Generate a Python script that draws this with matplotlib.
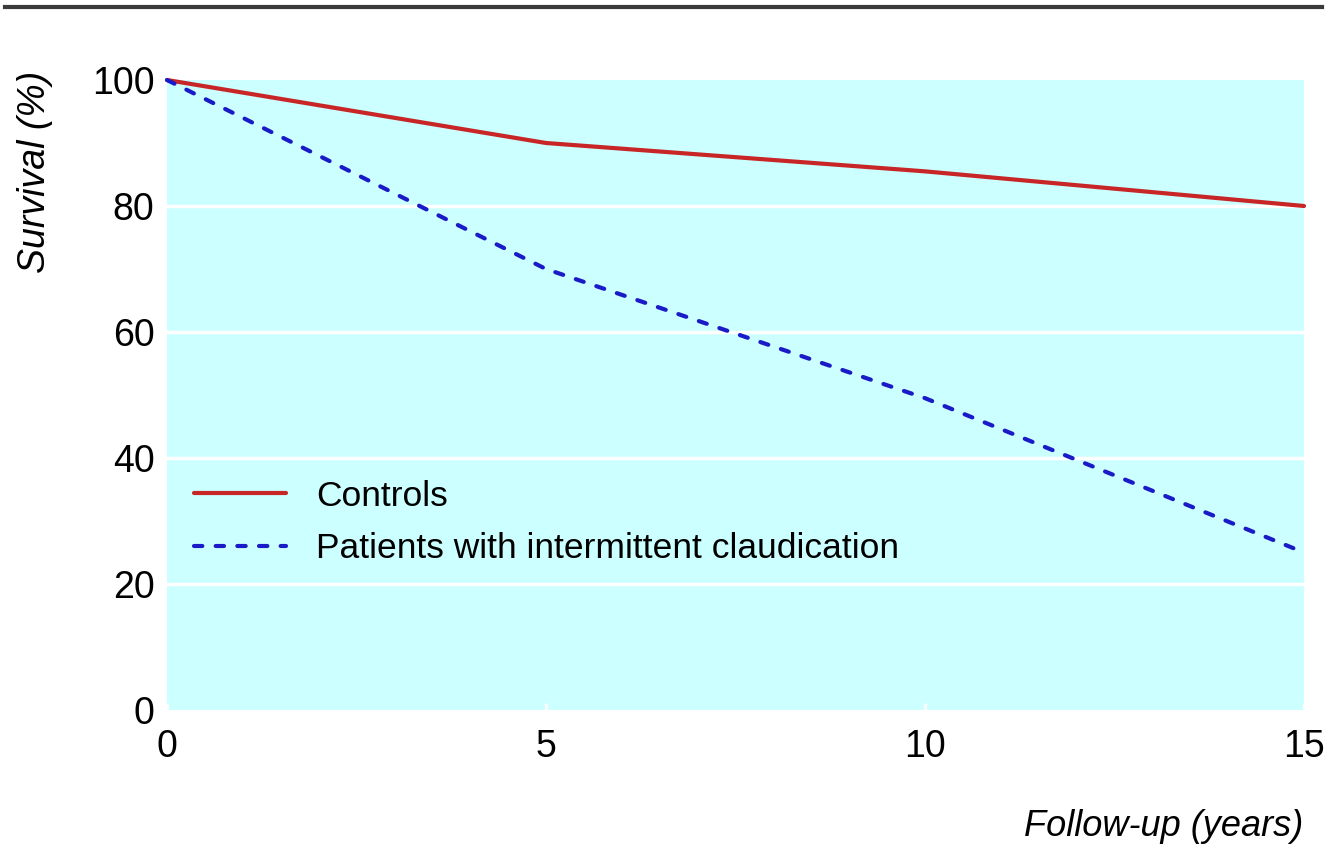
import matplotlib
matplotlib.use('Agg')
import matplotlib.pyplot as plt
from matplotlib.lines import Line2D

# survival data
years = [0, 5, 10, 15]
controls = [100, 90, 85.5, 80]
patients = [100, 70, 49.5, 25]
x_ticks = [0, 5, 10, 15]
y_ticks = [0, 20, 40, 60, 80, 100]

plt.rcParams['font.family'] = ['Liberation Sans', 'DejaVu Sans']

fig = plt.figure(figsize=(13.34, 8.58), dpi=100)
ax = fig.add_axes([167 / 1334, 148 / 858, 1137 / 1334, 630 / 858])
ax.set_facecolor('#ccffff')

# white grid lines
for y in y_ticks[1:-1]:
    ax.axhline(y, color='white', lw=2.5, zorder=1)

ax.plot(years, controls, color='#c82626', lw=3.0, solid_capstyle='round',
        label='Controls', zorder=3, clip_on=False)
ax.plot(years, patients, color='#1a1ac8', lw=3.0, dashes=(2.0, 3.2),
        dash_capstyle='round',
        label='Patients with intermittent claudication', zorder=3, clip_on=False)

ax.set_xlim(0, 15)
ax.set_ylim(0, 100)
ax.set_xticks(x_ticks)
ax.set_yticks(y_ticks)
for s in ax.spines.values():
    s.set_visible(False)
ax.tick_params(axis='y', length=0, pad=9, labelsize=27)
ax.tick_params(axis='x', direction='in', length=5, width=2, color='white', pad=14, labelsize=27)

ax.legend(loc='center left', bbox_to_anchor=(0.024, 0.298), frameon=False,
          fontsize=25.5, handlelength=2.6, handletextpad=0.85, labelspacing=0.55,
          borderpad=0, borderaxespad=0)

fig.text(0.026, 1 - 172 / 858, 'Survival (%)', rotation=90, style='italic',
         fontsize=27, ha='center', va='center')
fig.text(1303 / 1334, 1 - 826 / 858, 'Follow-up (years)', style='italic',
         fontsize=26, ha='right', va='center')

# rule across the top
fig.add_artist(Line2D([5 / 1334, 1322 / 1334], [1 - 7 / 858, 1 - 7 / 858],
                      color='#3a3a3a', lw=3))

fig.savefig('out.png', dpi=100)
